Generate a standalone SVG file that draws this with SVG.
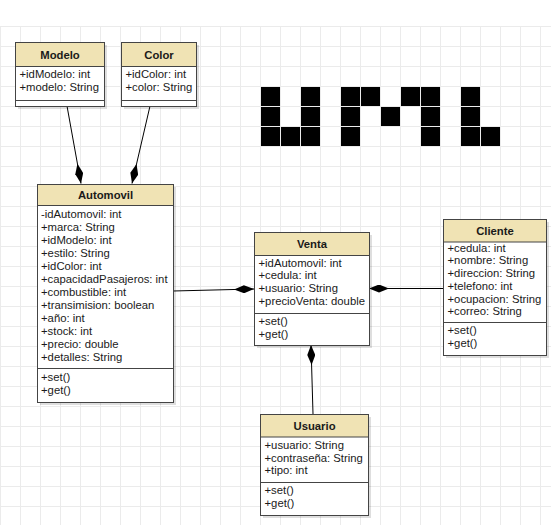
<svg xmlns="http://www.w3.org/2000/svg" width="559" height="525" viewBox="0 0 559 525">
<defs>
<pattern id="grid" x="0" y="6" width="20" height="20" patternUnits="userSpaceOnUse">
<path d="M0,0.5 H20 M0.5,0 V20" fill="none" stroke="#ebebeb" stroke-width="1"/>
</pattern>
<marker id="dia" markerUnits="userSpaceOnUse" viewBox="0 0 20 8" markerWidth="20" markerHeight="8" refX="20" refY="4" orient="auto">
<path d="M0,4 L10,0 L20,4 L10,8 Z" fill="#000"/>
</marker>
<style>
.sh{fill:#000;opacity:.13}
.hd{fill:#f0e3b4;stroke:#444;stroke-width:1}
.bd{fill:#fff;stroke:#444;stroke-width:1}
.sep{stroke:#444;stroke-width:1}
text{font-family:"Liberation Sans",Arial,sans-serif;font-size:11.3px;fill:#1a1a1a}
.t{font-weight:bold;text-anchor:middle}
.blk{fill:#000}
.cn{fill:none;stroke:#000;stroke-width:1;marker-end:url(#dia)}
</style>
</defs>
<rect width="559" height="525" fill="#fff"/>
<rect x="0" y="26" width="551" height="499" fill="url(#grid)"/>

<g id="uml-letters">
<rect class="blk" x="261" y="87" width="19" height="19"/>
<rect class="blk" x="261" y="107" width="19" height="19"/>
<rect class="blk" x="261" y="127" width="19" height="19"/>
<rect class="blk" x="281" y="127" width="19" height="19"/>
<rect class="blk" x="301" y="87" width="19" height="19"/>
<rect class="blk" x="301" y="107" width="19" height="19"/>
<rect class="blk" x="301" y="127" width="19" height="19"/>
<rect class="blk" x="341" y="87" width="19" height="19"/>
<rect class="blk" x="341" y="107" width="19" height="19"/>
<rect class="blk" x="341" y="127" width="19" height="19"/>
<rect class="blk" x="361" y="87" width="19" height="19"/>
<rect class="blk" x="381" y="107" width="19" height="19"/>
<rect class="blk" x="401" y="87" width="19" height="19"/>
<rect class="blk" x="421" y="87" width="19" height="19"/>
<rect class="blk" x="421" y="107" width="19" height="19"/>
<rect class="blk" x="421" y="127" width="19" height="19"/>
<rect class="blk" x="461" y="87" width="19" height="19"/>
<rect class="blk" x="461" y="107" width="19" height="19"/>
<rect class="blk" x="461" y="127" width="19" height="19"/>
<rect class="blk" x="481" y="127" width="19" height="19"/>
</g>

<g id="connectors">
<path class="cn" d="M67,106 L81,183.5"/>
<path class="cn" d="M150,106 L132,183.5"/>
<path class="cn" d="M173,291 L254,289"/>
<path class="cn" d="M443,288.5 L369,288.5"/>
<path class="cn" d="M313,414 L311,345"/>
</g>

<g id="Modelo">
<rect class="sh" x="18" y="45" width="89" height="64"/>
<rect class="bd" x="15.5" y="42.5" width="89" height="64"/>
<rect class="hd" x="15.5" y="42.5" width="89" height="24"/>
<line class="sep" x1="15.5" y1="100.5" x2="104.5" y2="100.5"/>
<text class="t" x="60" y="58.5">Modelo</text>
<text x="19.5" y="78">+idModelo: int</text>
<text x="19.5" y="91">+modelo: String</text>
</g>

<g id="Color">
<rect class="sh" x="124" y="45" width="75" height="64"/>
<rect class="bd" x="121.5" y="42.5" width="75" height="64"/>
<rect class="hd" x="121.5" y="42.5" width="75" height="24"/>
<line class="sep" x1="121.5" y1="100.5" x2="196.5" y2="100.5"/>
<text class="t" x="159" y="58.5">Color</text>
<text x="125.5" y="78">+idColor: int</text>
<text x="125.5" y="91">+color: String</text>
</g>

<g id="Automovil">
<rect class="sh" x="40" y="187" width="136" height="218"/>
<rect class="bd" x="37.5" y="184.5" width="136" height="218"/>
<rect class="hd" x="37.5" y="184.5" width="136" height="21"/>
<line class="sep" x1="37.5" y1="368.5" x2="173.5" y2="368.5"/>
<text class="t" x="105.5" y="199">Automovil</text>
<text x="41" y="217.7">-idAutomovil: int</text>
<text x="41" y="230.7">+marca: String</text>
<text x="41" y="243.7">+idModelo: int</text>
<text x="41" y="256.7">+estilo: String</text>
<text x="41" y="269.7">+idColor: int</text>
<text x="41" y="282.7">+capacidadPasajeros: int</text>
<text x="41" y="295.7">+combustible: int</text>
<text x="41" y="308.7">+transimision: boolean</text>
<text x="41" y="321.7">+año: int</text>
<text x="41" y="334.7">+stock: int</text>
<text x="41" y="347.7">+precio: double</text>
<text x="41" y="360.7">+detalles: String</text>
<text x="41" y="380.7">+set()</text>
<text x="41" y="394">+get()</text>
</g>

<g id="Venta">
<rect class="sh" x="257" y="235" width="115" height="113"/>
<rect class="bd" x="254.5" y="232.5" width="115" height="113"/>
<rect class="hd" x="254.5" y="232.5" width="115" height="23"/>
<line class="sep" x1="254.5" y1="313.5" x2="369.5" y2="313.5"/>
<text class="t" x="312" y="248">Venta</text>
<text x="258.5" y="266.7">+idAutomovil: int</text>
<text x="258.5" y="279.4">+cedula: int</text>
<text x="258.5" y="292.1">+usuario: String</text>
<text x="258.5" y="304.8">+precioVenta: double</text>
<text x="258.5" y="325">+set()</text>
<text x="258.5" y="337.5">+get()</text>
</g>

<g id="Cliente">
<rect class="sh" x="446" y="222" width="103" height="136"/>
<rect class="bd" x="443.5" y="219.5" width="103" height="136"/>
<rect class="hd" x="443.5" y="219.5" width="103" height="22.5"/>
<line class="sep" x1="443.5" y1="322.5" x2="546.5" y2="322.5"/>
<text class="t" x="495" y="234.8">Cliente</text>
<text x="447.5" y="251.7">+cedula: int</text>
<text x="447.5" y="264.4">+nombre: String</text>
<text x="447.5" y="277.1">+direccion: String</text>
<text x="447.5" y="289.8">+telefono: int</text>
<text x="447.5" y="302.5">+ocupacion: String</text>
<text x="447.5" y="315.2">+correo: String</text>
<text x="447.5" y="334.4">+set()</text>
<text x="447.5" y="346.8">+get()</text>
</g>

<g id="Usuario">
<rect class="sh" x="263" y="417" width="108" height="101"/>
<rect class="bd" x="260.5" y="414.5" width="108" height="101"/>
<rect class="hd" x="260.5" y="414.5" width="108" height="22.5"/>
<line class="sep" x1="260.5" y1="482.5" x2="368.5" y2="482.5"/>
<text class="t" x="314.5" y="429.5">Usuario</text>
<text x="264.5" y="449">+usuario: String</text>
<text x="264.5" y="461.7">+contraseña: String</text>
<text x="264.5" y="474.4">+tipo: int</text>
<text x="264.5" y="494.4">+set()</text>
<text x="264.5" y="506.8">+get()</text>
</g>
</svg>
